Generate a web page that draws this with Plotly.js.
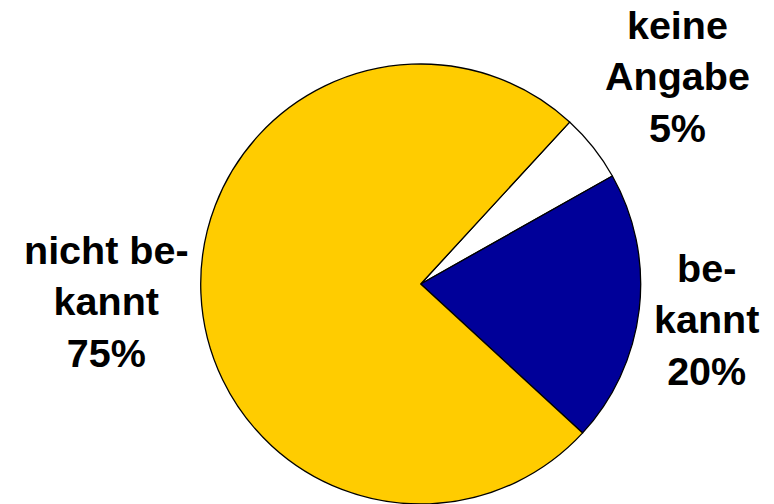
<!DOCTYPE html>
<html>
<head>
<meta charset="utf-8">
<script src="https://cdn.plot.ly/plotly-3.0.1.min.js"></script>
<style>html,body{margin:0;padding:0;background:#fff;}#chart{width:774px;height:504px;}</style>
</head>
<body>
<div id="chart"></div>
<script>
var categories = ['keine Angabe', 'bekannt', 'nicht bekannt'];
var displayLabels = ['keine<br>Angabe', 'be-<br>kannt', 'nicht be-<br>kannt'];
var values = [5, 20, 75];
var sliceColors = ['#FFFFFF', '#000099', '#FFCC00'];
var labelPos = [[0.8747, 0.848], [0.913, 0.367], [0.138, 0.401]];

var total = values.reduce(function(a, b){ return a + b; }, 0);
var annotations = categories.map(function(c, i){
  return {
    xref: 'paper', yref: 'paper',
    x: labelPos[i][0], y: labelPos[i][1],
    xanchor: 'center', yanchor: 'middle', align: 'center',
    showarrow: false,
    text: '<b>' + displayLabels[i] + '<br>' + Math.round(values[i] / total * 100) + '%</b>',
    font: {family: 'Liberation Sans, Arial, sans-serif', size: 39.5, color: '#000'}
  };
});

var trace = {
  type: 'pie',
  labels: categories,
  values: values,
  sort: false,
  direction: 'clockwise',
  rotation: 42.6,
  textinfo: 'none',
  hoverinfo: 'label+percent',
  marker: {colors: sliceColors, line: {color: '#000', width: 1.3}},
  domain: {x: [0.2593, 0.8278], y: [0, 0.873]}
};

Plotly.newPlot('chart', [trace], {
  width: 774, height: 504,
  margin: {l: 0, r: 0, t: 0, b: 0},
  showlegend: false,
  paper_bgcolor: '#fff',
  annotations: annotations
}, {displayModeBar: false, staticPlot: true});
</script>
</body>
</html>
